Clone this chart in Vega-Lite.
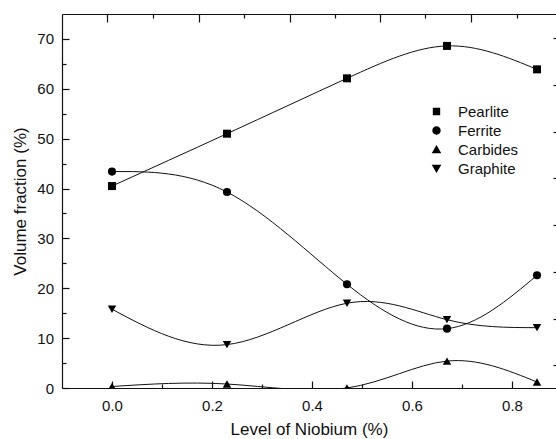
{
  "$schema": "https://vega.github.io/schema/vega-lite/v6.json",
  "width": 494,
  "height": 374,
  "padding": {"left": 62, "top": 14, "right": 0, "bottom": 51},
  "autosize": {"type": "none"},
  "config": {
    "view": {"stroke": null},
    "font": "Liberation Sans",
    "axis": {
      "domainColor": "#111",
      "domainWidth": 1.2,
      "tickColor": "#111",
      "tickWidth": 1.2,
      "labelColor": "#111",
      "titleColor": "#111",
      "labelFont": "Liberation Sans",
      "titleFont": "Liberation Sans",
      "labelFontSize": 15,
      "titleFontSize": 17,
      "titleFontWeight": "normal",
      "grid": false
    },
    "legend": {"labelFont": "Liberation Sans", "labelColor": "#111"}
  },
  "data": {
    "values": [
      {"nb": 0.0, "vf": 40.5, "phase": "Pearlite"},
      {"nb": 0.23, "vf": 51.0, "phase": "Pearlite"},
      {"nb": 0.47, "vf": 62.1, "phase": "Pearlite"},
      {"nb": 0.67, "vf": 68.6, "phase": "Pearlite"},
      {"nb": 0.85, "vf": 63.9, "phase": "Pearlite"},
      {"nb": 0.0, "vf": 43.4, "phase": "Ferrite"},
      {"nb": 0.23, "vf": 39.3, "phase": "Ferrite"},
      {"nb": 0.47, "vf": 20.8, "phase": "Ferrite"},
      {"nb": 0.67, "vf": 11.9, "phase": "Ferrite"},
      {"nb": 0.85, "vf": 22.6, "phase": "Ferrite"},
      {"nb": 0.0, "vf": 0.3, "phase": "Carbides"},
      {"nb": 0.23, "vf": 0.8, "phase": "Carbides"},
      {"nb": 0.47, "vf": 0.0, "phase": "Carbides"},
      {"nb": 0.67, "vf": 5.4, "phase": "Carbides"},
      {"nb": 0.85, "vf": 1.2, "phase": "Carbides"},
      {"nb": 0.0, "vf": 15.8, "phase": "Graphite"},
      {"nb": 0.23, "vf": 8.7, "phase": "Graphite"},
      {"nb": 0.47, "vf": 17.0, "phase": "Graphite"},
      {"nb": 0.67, "vf": 13.7, "phase": "Graphite"},
      {"nb": 0.85, "vf": 12.1, "phase": "Graphite"}
    ]
  },
  "layer": [
    {
      "mark": {"type": "line", "interpolate": "natural", "clip": true, "color": "#111", "strokeWidth": 1},
      "encoding": {
        "x": {"field": "nb", "type": "quantitative",
          "scale": {"domain": [-0.1, 0.888], "nice": false, "zero": false},
          "axis": {"orient": "bottom", "values": [0, 0.2, 0.4, 0.6, 0.8], "format": ".1f", "tickSize": -7, "labelPadding": 17, "title": "Level of Niobium (%)", "titlePadding": 8}},
        "y": {"field": "vf", "type": "quantitative",
          "scale": {"domain": [0, 75], "nice": false, "zero": true},
          "axis": {"orient": "left", "values": [0, 10, 20, 30, 40, 50, 60, 70], "tickSize": -7, "labelPadding": 15.5, "title": "Volume fraction (%)", "titlePadding": 7}},
        "detail": {"field": "phase"}
      }
    },
    {
      "transform": [{"filter": "datum.phase === 'Pearlite'"}],
      "mark": {"type": "point", "shape": "square", "filled": true, "opacity": 1, "clip": true, "color": "#000", "size": 64},
      "encoding": {
        "x": {"field": "nb", "type": "quantitative",
          "axis": {"orient": "bottom", "values": [0.1, 0.3, 0.5, 0.7], "tickSize": -4, "labels": false, "domain": false, "title": null}},
        "y": {"field": "vf", "type": "quantitative",
          "axis": {"orient": "left", "values": [5, 15, 25, 35, 45, 55, 65], "tickSize": -4, "labels": false, "domain": false, "title": null}}
      }
    },
    {
      "transform": [{"filter": "datum.phase === 'Ferrite'"}],
      "mark": {"type": "point", "shape": "circle", "filled": true, "opacity": 1, "clip": true, "color": "#000", "size": 66},
      "encoding": {
        "x": {"field": "nb", "type": "quantitative", "axis": null},
        "y": {"field": "vf", "type": "quantitative", "axis": null}
      }
    },
    {
      "transform": [{"filter": "datum.phase === 'Carbides'"}],
      "mark": {"type": "point", "shape": "triangle-up", "filled": true, "opacity": 1, "clip": true, "color": "#000", "size": 72},
      "encoding": {
        "x": {"field": "nb", "type": "quantitative", "axis": null},
        "y": {"field": "vf", "type": "quantitative", "axis": null}
      }
    },
    {
      "transform": [{"filter": "datum.phase === 'Graphite'"}],
      "mark": {"type": "point", "shape": "triangle-down", "filled": true, "opacity": 1, "clip": true, "color": "#000", "size": 72},
      "encoding": {
        "x": {"field": "nb", "type": "quantitative", "axis": null},
        "y": {"field": "vf", "type": "quantitative", "axis": null}
      }
    },
    {
      "mark": {"type": "line", "opacity": 0},
      "encoding": {
        "x": {"field": "nb", "type": "quantitative",
          "axis": {"orient": "top", "values": [-0.0094, 0.1732, 0.3552, 0.5366, 0.7186], "tickSize": -8, "labels": false, "domain": true, "title": null}},
        "y": {"field": "vf", "type": "quantitative",
          "axis": {"orient": "right", "values": [70.2, 60.8, 51.4, 42.1, 32.7, 23.3, 13.9, 4.6], "tickSize": -3, "labels": false, "domain": false, "title": null}},
        "detail": {"field": "phase"}
      }
    },
    {
      "mark": {"type": "line", "opacity": 0},
      "encoding": {
        "x": {"field": "nb", "type": "quantitative",
          "axis": {"orient": "top", "values": [0.082, 0.264, 0.4466, 0.6266, 0.81], "tickSize": -4, "labels": false, "domain": false, "title": null}},
        "y": {"field": "vf", "type": "quantitative", "axis": null},
        "detail": {"field": "phase"}
      }
    },
    {
      "transform": [{"filter": "datum.vf > 1000"}],
      "mark": {"type": "point", "filled": true, "opacity": 1, "color": "#000", "stroke": "#111", "strokeWidth": 1},
      "encoding": {
        "x": {"field": "nb", "type": "quantitative", "axis": null},
        "y": {"field": "vf", "type": "quantitative", "axis": null},
        "shape": {"field": "phase", "type": "nominal",
          "scale": {"domain": ["Pearlite", "Ferrite", "Carbides", "Graphite"],
            "range": [
              "M-4.25,0H4.25M-0.92,-0.92H0.92V0.92H-0.92Z",
              "M-4.25,0H4.25M-1.05,0A1.05,1.05,0,1,0,1.05,0A1.05,1.05,0,1,0,-1.05,0Z",
              "M-4.25,0H4.25M-1.2,0.95L1.2,0.95L0,-1.1Z",
              "M-4.25,0H4.25M-1.2,-0.95L1.2,-0.95L0,1.1Z"
            ]},
          "legend": {
            "orient": "none", "legendX": 367, "legendY": 90, "title": null,
            "symbolSize": 64, "labelOffset": 14, "labelFontSize": 15, "rowPadding": 3, "padding": 0,
            "symbolFillColor": "#000", "symbolStrokeColor": "#111", "symbolStrokeWidth": 1, "symbolOpacity": 1,
            "encode": {"symbols": {
              "fill": {"value": "#000"},
              "stroke": {"value": "#111"},
              "strokeWidth": {"value": 1},
              "strokeOpacity": {"value": 1}
            }}
          }}
      }
    }
  ],
  "resolve": {
    "axis": {"x": "independent", "y": "independent"}
  }
}
